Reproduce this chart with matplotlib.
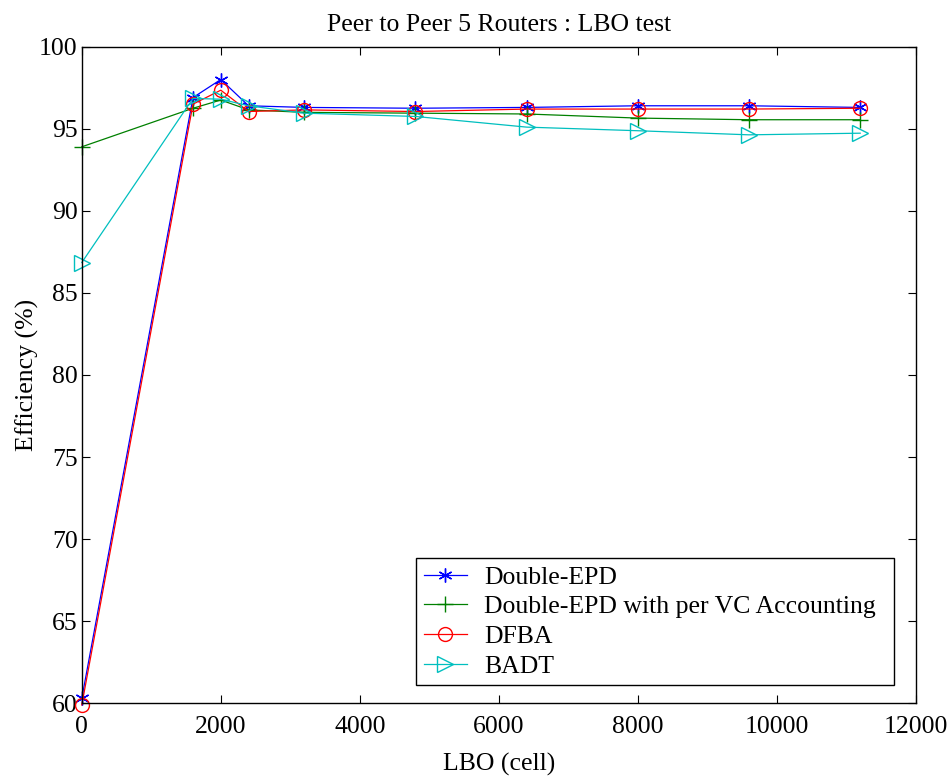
import numpy as np
import matplotlib
matplotlib.use("Agg")
import matplotlib.pyplot as plt

plt.rcParams['font.family'] = ['Liberation Serif', 'DejaVu Serif']

# données
lbo = [0, 1600, 2000, 2400, 3200, 4800, 6400, 8000, 9600, 11200]
double_epd = [60.3, 96.9, 98.0, 96.4, 96.3, 96.25, 96.3, 96.4, 96.4, 96.3]
double_epd_vc = [93.9, 96.25, 96.75, 96.15, 96.0, 95.95, 95.9, 95.65, 95.55, 95.55]
dfba = [59.9, 96.5, 97.35, 96.05, 96.15, 96.05, 96.2, 96.2, 96.2, 96.25]
badt = [86.85, 96.85, 96.8, 96.4, 95.95, 95.75, 95.1, 94.88, 94.63, 94.73]

fig = plt.figure(figsize=(9.51, 7.78), dpi=100)
ax = fig.add_axes([0.086, 0.096, 0.877, 0.844])

ax.plot(lbo, double_epd, color='b', marker=(6, 2, 0), markersize=10, linewidth=0.9,
        clip_on=False, label='Double-EPD')
ax.plot(lbo, double_epd_vc, color=(0, 0.5, 0), marker='+', markersize=11, linewidth=0.9,
        clip_on=False, label='Double-EPD with per VC Accounting')
ax.plot(lbo, dfba, color='r', marker='o', markersize=10, markerfacecolor='none',
        linewidth=0.9, clip_on=False, label='DFBA')
ax.plot(lbo, badt, color=(0, 0.75, 0.75), marker='>', markersize=11, markerfacecolor='none',
        linewidth=0.9, clip_on=False, label='BADT')

ax.set_xlim(0, 12000)
ax.set_ylim(60, 100)
ax.set_xticks(np.arange(0, 12001, 2000))
ax.set_yticks(np.arange(60, 101, 5))
ax.tick_params(direction='in', top=True, right=True, labelsize=18.5, length=6)
ax.tick_params(axis='x', pad=9)
ax.tick_params(axis='y', pad=3)
for s in ax.spines.values():
    s.set_linewidth(1.0)

ax.set_title('Peer to Peer 5 Routers : LBO test', fontsize=18.5, pad=11)
ax.set_xlabel('LBO (cell)', fontsize=18.5, labelpad=11)
ax.set_ylabel('Efficiency (%)', fontsize=18.5, labelpad=0)

# légende élargie à la taille de celle de l'original
leg = ax.legend(loc='lower left', bbox_to_anchor=(0.4005, 0.0274, 0.573, 0), mode='expand',
                fontsize=18.5, fancybox=False, framealpha=1, edgecolor='black',
                handlelength=1.7, borderpad=0.3, labelspacing=0.26, handletextpad=0.65,
                borderaxespad=0)
leg.get_frame().set_linewidth(1.0)

fig.savefig('out.png', dpi=100)
